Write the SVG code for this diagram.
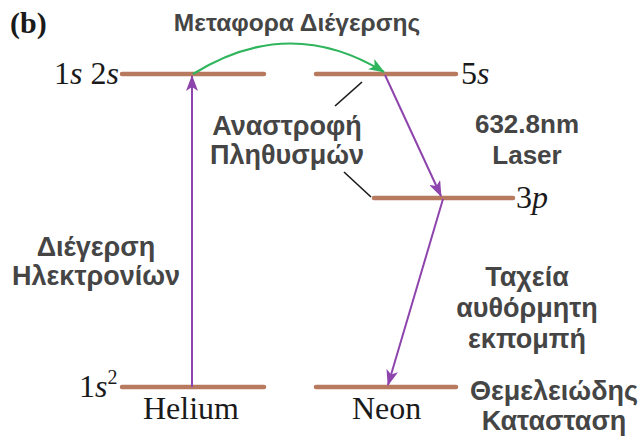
<svg xmlns="http://www.w3.org/2000/svg" width="640" height="436" viewBox="0 0 640 436">
<style>
.lvl{stroke:#b87a5f;stroke-width:4.5;stroke-linecap:round;fill:none}
.pur{stroke:#8e44ad;stroke-width:2;fill:none}
.grn{stroke:#2fb55c;stroke-width:2.2;fill:none}
.blk{stroke:#1a1a1a;stroke-width:1.6;fill:none}
.lab{font-family:"Liberation Sans",Arial,sans-serif;font-weight:bold;font-size:27px;fill:#454545;text-anchor:middle}
.ttl{font-size:24.5px}
.num{font-size:26px}
.ser{font-family:"Liberation Serif","Times New Roman",serif;font-size:32px;fill:#1a1a1a}
.it{font-style:italic}
.sup{font-size:20px}
</style>
<defs>
<marker id="ap" markerWidth="16" markerHeight="12" refX="15" refY="6" orient="auto" markerUnits="userSpaceOnUse"><path d="M0,0 L16,6 L0,12 L4,6 z" fill="#8e44ad"/></marker>
<marker id="ag" markerWidth="16" markerHeight="12" refX="15" refY="6" orient="auto" markerUnits="userSpaceOnUse"><path d="M0,0 L16,6 L0,12 L4,6 z" fill="#2fb55c"/></marker>
</defs>
<rect width="640" height="436" fill="#ffffff"/>
<g id="levels">
<g id="he-1s2s"><line class="lvl" x1="122" y1="74" x2="264" y2="74"/><text class="ser" x="54" y="84">1<tspan class="it">s</tspan> 2<tspan class="it">s</tspan></text></g>
<g id="ne-5s"><line class="lvl" x1="316" y1="74" x2="456" y2="74"/><text class="ser" x="461" y="84">5<tspan class="it">s</tspan></text></g>
<g id="ne-3p"><line class="lvl" x1="374" y1="198" x2="513" y2="198"/><text class="ser" x="516" y="208">3<tspan class="it">p</tspan></text></g>
<g id="he-1s2"><line class="lvl" x1="122" y1="387" x2="264" y2="387"/><text class="ser" x="79" y="397">1<tspan class="it">s</tspan><tspan class="sup" dy="-13">2</tspan></text></g>
<g id="ne-ground"><line class="lvl" x1="316" y1="387" x2="456" y2="387"/></g>
</g>
<g id="connectors">
<path class="grn" d="M193,74 Q289,14 384,72" marker-end="url(#ag)"/>
<line class="pur" x1="192" y1="387" x2="192" y2="76" marker-end="url(#ap)"/>
<line class="pur" x1="385" y1="75" x2="441" y2="196" marker-end="url(#ap)"/>
<line class="pur" x1="443" y1="199" x2="388" y2="385" marker-end="url(#ap)"/>
<line class="blk" x1="362" y1="82" x2="335" y2="106"/>
<line class="blk" x1="344" y1="172" x2="371" y2="197"/>
</g>
<g id="labels">
<text x="10" y="33" font-family="'Liberation Serif','Times New Roman',serif" font-weight="bold" font-size="30" fill="#1a1a1a">(b)</text>
<text class="lab ttl" x="297" y="31">Μεταφορα Διέγερσης</text>
<text class="lab" x="287" y="135">Αναστροφή</text>
<text class="lab" x="287" y="164">Πληθυσμών</text>
<text class="lab num" x="527" y="133">632.8nm</text>
<text class="lab num" x="527" y="164">Laser</text>
<text class="lab" x="96" y="256">Διέγερση</text>
<text class="lab" x="96" y="285">Ηλεκτρονίων</text>
<text class="lab" x="527" y="286">Ταχεία</text>
<text class="lab" x="527" y="317">αυθόρμητη</text>
<text class="lab" x="527" y="348">εκπομπή</text>
<text class="lab" x="554" y="400">Θεμελειώδης</text>
<text class="lab" x="554" y="430">Κατασταση</text>
<text class="ser" x="143" y="419">Helium</text>
<text class="ser" x="352" y="419">Neon</text>
</g>
</svg>
